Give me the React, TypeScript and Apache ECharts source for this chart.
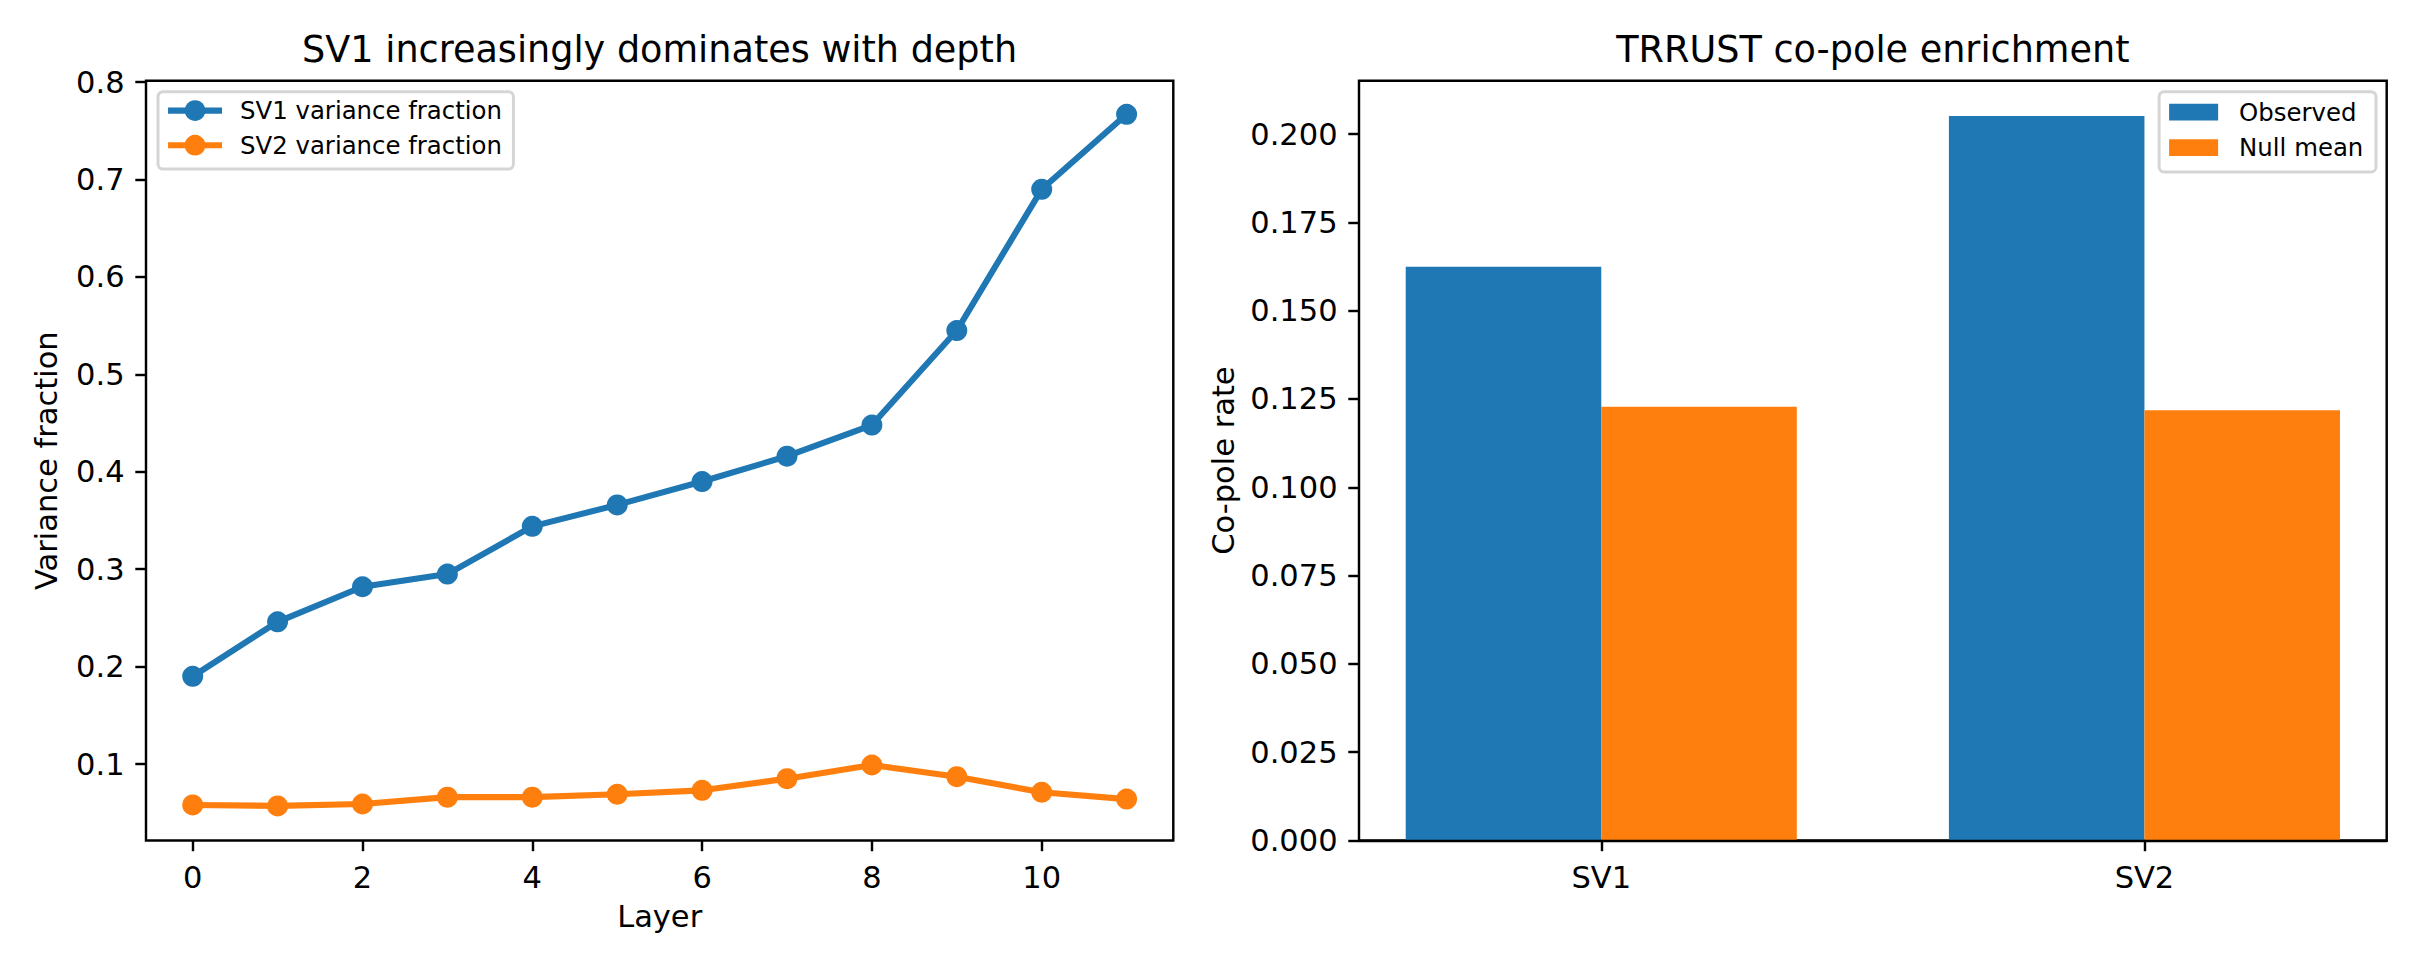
import React, { useEffect, useRef } from "react";
import * as echarts from "echarts";

// ---- Data ----
const layers = [0, 1, 2, 3, 4, 5, 6, 7, 8, 9, 10, 11];
const sv1Fraction = [0.190, 0.246, 0.282, 0.295, 0.344, 0.366, 0.390, 0.416, 0.448, 0.545, 0.690, 0.767];
const sv2Fraction = [0.058, 0.057, 0.059, 0.066, 0.066, 0.069, 0.073, 0.085, 0.099, 0.087, 0.071, 0.064];
const layerTicks = [0, 2, 4, 6, 8, 10];
const fractionTicks = [0.1, 0.2, 0.3, 0.4, 0.5, 0.6, 0.7, 0.8];

const components = ["SV1", "SV2"];
const observedRate = [0.1624, 0.2051];
const nullMeanRate = [0.1228, 0.1218];
const rateTicks = [0, 0.025, 0.05, 0.075, 0.1, 0.125, 0.15, 0.175, 0.2];

const FONT = "DejaVu Sans";
const BLUE = "#1f77b4";
const ORANGE = "#ff7f0e";
const BAR_W = 0.36;

export default function App() {
  const ref = useRef<HTMLDivElement>(null);

  useEffect(() => {
    if (!ref.current) return;
    const chart = echarts.init(ref.current, null, { renderer: "svg" });

    const tickStyle = { show: true, length: 10.7, lineStyle: { color: "#000", width: 2.44 } };
    const labelStyle = { color: "#000", fontSize: 30.5, fontFamily: FONT, margin: 21.4 };
    const nameStyle = { color: "#000", fontSize: 30.5, fontFamily: FONT };
    const hiddenLine = { show: false, onZero: false };

    const makeBar = (name: string, values: number[], color: string, offset: number) => ({
      type: "custom",
      name,
      xAxisIndex: 1,
      yAxisIndex: 1,
      itemStyle: { color },
      encode: { x: 0, y: 1 },
      data: values.map((v, i) => [i, v]),
      renderItem: (params: any, api: any) => {
        const x = api.value(0);
        const y = api.value(1);
        const a = api.coord([x + offset, y]);
        const b = api.coord([x + offset + BAR_W, 0]);
        return {
          type: "rect",
          shape: { x: a[0], y: a[1], width: b[0] - a[0], height: b[1] - a[1] },
          style: { fill: api.visual("color") },
        };
      },
    });

    const option: any = {
      animation: false,
      backgroundColor: "#fff",
      title: [
        {
          text: "SV1 increasingly dominates with depth",
          left: 659.6,
          top: 49.7,
          padding: 0,
          textAlign: "center",
          textVerticalAlign: "middle",
          textStyle: { color: "#000", fontSize: 36.6, fontFamily: FONT, fontWeight: "normal" },
        },
        {
          text: "TRRUST co-pole enrichment",
          left: 1872.9,
          top: 49.7,
          padding: 0,
          textAlign: "center",
          textVerticalAlign: "middle",
          textStyle: { color: "#000", fontSize: 36.6, fontFamily: FONT, fontWeight: "normal" },
        },
      ],
      legend: [
        {
          orient: "vertical",
          left: 158,
          top: 91.7,
          itemWidth: 54,
          itemHeight: 26,
          itemGap: 10.6,
          padding: [6.9, 11.5, 11.9, 7],
          backgroundColor: "rgba(255,255,255,0.8)",
          borderColor: "#d5d5d5",
          borderWidth: 3,
          borderRadius: 5,
          selectedMode: false,
          lineStyle: { width: 6.1 },
          data: ["SV1 variance fraction", "SV2 variance fraction"],
          textStyle: { color: "#000", fontSize: 24.4, fontFamily: FONT, padding: [0, 0, 0, 13] },
        },
        {
          orient: "vertical",
          right: 44,
          top: 91.7,
          itemWidth: 49,
          itemHeight: 16.7,
          itemGap: 11.6,
          icon: "rect",
          padding: [8.4, 12.7, 12.2, 10],
          backgroundColor: "rgba(255,255,255,0.8)",
          borderColor: "#d5d5d5",
          borderWidth: 3,
          borderRadius: 5,
          selectedMode: false,
          data: ["Observed", "Null mean"],
          textStyle: { color: "#000", fontSize: 24.4, fontFamily: FONT, padding: [0, 0, 0, 16] },
        },
      ],
      grid: [
        { left: 146, top: 80.7, width: 1027.3, height: 759.8, show: true, borderColor: "#000", borderWidth: 2.44, backgroundColor: "transparent" },
        { left: 1359, top: 80.7, width: 1027.7, height: 759.8, show: true, borderColor: "#000", borderWidth: 2.44, backgroundColor: "transparent" },
      ],
      xAxis: [
        {
          type: "value",
          gridIndex: 0,
          min: -0.55,
          max: 11.55,
          name: "Layer",
          nameLocation: "middle",
          nameGap: 60.7,
          nameTextStyle: nameStyle,
          axisLine: hiddenLine,
          splitLine: { show: false },
          axisTick: { ...tickStyle, customValues: layerTicks },
          axisLabel: { ...labelStyle, customValues: layerTicks, formatter: (v: number) => String(v) },
        },
        {
          type: "value",
          gridIndex: 1,
          min: -0.446,
          max: 1.446,
          z: 10,
          axisLine: { show: true, onZero: false, lineStyle: { color: "#000", width: 2.44 } },
          splitLine: { show: false },
          axisTick: { ...tickStyle, customValues: [0, 1] },
          axisLabel: {
            ...labelStyle,
            customValues: [0, 1],
            formatter: (v: number) => components[Math.round(v)] ?? "",
          },
        },
      ],
      yAxis: [
        {
          type: "value",
          gridIndex: 0,
          min: 0.0215,
          max: 0.8015,
          name: "Variance fraction",
          nameLocation: "middle",
          nameGap: 84,
          nameRotate: 90,
          nameTextStyle: nameStyle,
          axisLine: hiddenLine,
          splitLine: { show: false },
          axisTick: { ...tickStyle, customValues: fractionTicks },
          axisLabel: { ...labelStyle, customValues: fractionTicks, formatter: (v: number) => v.toFixed(1) },
        },
        {
          type: "value",
          gridIndex: 1,
          min: 0,
          max: 0.2151,
          name: "Co-pole rate",
          nameLocation: "middle",
          nameGap: 120,
          nameRotate: 90,
          nameTextStyle: nameStyle,
          axisLine: hiddenLine,
          splitLine: { show: false },
          axisTick: { ...tickStyle, customValues: rateTicks },
          axisLabel: { ...labelStyle, customValues: rateTicks, formatter: (v: number) => v.toFixed(3) },
        },
      ],
      series: [
        {
          type: "line",
          name: "SV1 variance fraction",
          xAxisIndex: 0,
          yAxisIndex: 0,
          data: layers.map((l, i) => [l, sv1Fraction[i]]),
          symbol: "circle",
          symbolSize: 21,
          lineStyle: { color: BLUE, width: 6.1 },
          itemStyle: { color: BLUE },
        },
        {
          type: "line",
          name: "SV2 variance fraction",
          xAxisIndex: 0,
          yAxisIndex: 0,
          data: layers.map((l, i) => [l, sv2Fraction[i]]),
          symbol: "circle",
          symbolSize: 21,
          lineStyle: { color: ORANGE, width: 6.1 },
          itemStyle: { color: ORANGE },
        },
        makeBar("Observed", observedRate, BLUE, -BAR_W),
        makeBar("Null mean", nullMeanRate, ORANGE, 0),
      ],
    };

    chart.setOption(option);
    return () => chart.dispose();
  }, []);

  return (
    <div
      ref={ref}
      style={{ position: "absolute", left: 0, top: 0, width: 2420, height: 968, background: "#fff" }}
    />
  );
}
